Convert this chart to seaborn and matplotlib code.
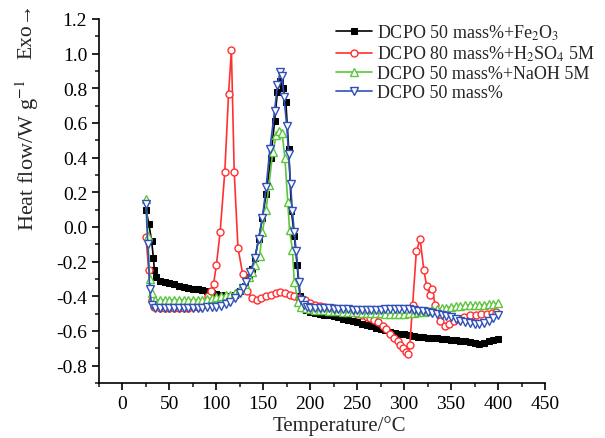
import matplotlib
matplotlib.use("Agg")
import matplotlib.pyplot as plt
import seaborn as sns
from matplotlib.ticker import MultipleLocator

# DCPO 50 mass% + Fe2O3
fe_t = [25, 28, 31, 33, 34, 36, 40, 45, 50, 55, 60, 65, 70, 75, 80, 85, 90, 95, 100,
        105, 110, 115, 120, 125, 130, 135, 138, 141, 145, 149, 153, 158, 162, 165, 168,
        171, 174, 177, 180, 183, 186, 189, 192, 195, 200, 205, 210, 215, 220, 225, 230,
        235, 240, 245, 250, 255, 260, 265, 270, 275, 280, 285, 290, 295, 300, 305, 310,
        315, 320, 325, 330, 335, 340, 345, 350, 355, 360, 365, 370, 375, 380, 385, 390,
        395, 400]
fe_v = [0.10, 0.02, -0.08, -0.18, -0.25, -0.29, -0.31, -0.32, -0.325, -0.33, -0.34,
        -0.345, -0.35, -0.355, -0.36, -0.365, -0.37, -0.38, -0.385, -0.39, -0.40, -0.40,
        -0.39, -0.37, -0.34, -0.29, -0.24, -0.18, -0.07, 0.05, 0.19, 0.40, 0.61, 0.78,
        0.84, 0.80, 0.72, 0.45, 0.09, -0.05, -0.22, -0.40, -0.47, -0.48, -0.49, -0.495,
        -0.50, -0.505, -0.51, -0.515, -0.52, -0.528, -0.535, -0.543, -0.55, -0.558,
        -0.565, -0.573, -0.58, -0.588, -0.595, -0.603, -0.61, -0.615, -0.62, -0.625,
        -0.63, -0.633, -0.635, -0.638, -0.64, -0.643, -0.645, -0.648, -0.65, -0.653,
        -0.655, -0.66, -0.665, -0.67, -0.675, -0.67, -0.66, -0.652, -0.645]

# DCPO 80 mass% + H2SO4 5M
h2_t = [25, 28, 31, 34, 40, 45, 50, 55, 60, 65, 70, 75, 80, 85, 88, 91, 94, 97, 100,
        104, 109, 113, 116, 119, 123, 128, 133, 138, 143, 148, 153, 158, 163, 168, 173,
        178, 183, 188, 194, 200, 205, 210, 215, 220, 225, 230, 235, 240, 245, 250, 255,
        260, 264, 268, 272, 277, 281, 285, 289, 293, 296, 299, 302, 304, 306, 309, 313,
        317, 321, 324, 327, 330, 333, 338, 343, 348, 353, 358, 364, 370, 376, 382, 388,
        394, 398]
h2_v = [-0.06, -0.25, -0.42, -0.46, -0.465, -0.465, -0.465, -0.465, -0.465, -0.465,
        -0.465, -0.462, -0.46, -0.45, -0.43, -0.40, -0.37, -0.33, -0.22, -0.03, 0.32,
        0.77, 1.02, 0.32, -0.12, -0.27, -0.37, -0.41, -0.42, -0.41, -0.40, -0.39, -0.38,
        -0.375, -0.38, -0.39, -0.40, -0.41, -0.42, -0.44, -0.448, -0.455, -0.46, -0.465,
        -0.47, -0.475, -0.48, -0.485, -0.49, -0.50, -0.51, -0.52, -0.525, -0.535, -0.55,
        -0.57, -0.59, -0.615, -0.64, -0.66, -0.68, -0.70, -0.72, -0.73, -0.68, -0.45,
        -0.14, -0.07, -0.25, -0.34, -0.39, -0.36, -0.45, -0.54, -0.57, -0.56, -0.54,
        -0.53, -0.52, -0.51, -0.505, -0.50, -0.50, -0.495, -0.49]

# DCPO 50 mass% + NaOH 5M
na_t = [25, 27, 29, 31, 35, 40, 45, 50, 55, 60, 65, 70, 75, 80, 85, 90, 95, 100, 105,
        110, 115, 120, 125, 130, 135, 138, 141, 146, 149, 153, 156, 160, 164, 167, 170,
        173, 176, 178, 181, 183, 187, 190, 195, 200, 205, 210, 215, 220, 225, 230, 235,
        240, 245, 250, 255, 260, 265, 270, 275, 280, 285, 290, 295, 300, 305, 310, 315,
        320, 325, 330, 335, 340, 345, 350, 355, 360, 365, 370, 375, 380, 385, 390, 395,
        400]
na_v = [0.16, -0.05, -0.30, -0.38, -0.42, -0.42, -0.42, -0.42, -0.42, -0.42, -0.42,
        -0.42, -0.42, -0.42, -0.42, -0.415, -0.41, -0.405, -0.40, -0.395, -0.39, -0.38,
        -0.36, -0.33, -0.29, -0.26, -0.22, -0.17, -0.03, 0.10, 0.24, 0.43, 0.53, 0.555,
        0.54, 0.40, 0.145, -0.02, -0.13, -0.32, -0.43, -0.46, -0.47, -0.475, -0.478,
        -0.48, -0.48, -0.482, -0.484, -0.486, -0.488, -0.49, -0.49, -0.492, -0.494,
        -0.496, -0.497, -0.498, -0.499, -0.50, -0.50, -0.50, -0.50, -0.50, -0.498,
        -0.495, -0.492, -0.49, -0.485, -0.48, -0.475, -0.47, -0.465, -0.46, -0.457,
        -0.455, -0.452, -0.45, -0.45, -0.45, -0.448, -0.445, -0.443, -0.44]

# DCPO 50 mass%
pl_t = [25, 27, 29, 31, 35, 40, 45, 50, 55, 60, 65, 70, 75, 80, 85, 90, 95, 100, 105,
        110, 115, 120, 125, 128, 132, 136, 141, 145, 149, 153, 157, 162, 165, 168, 170,
        172, 175, 177, 179, 181, 183, 185, 188, 190, 193, 197, 200, 205, 210, 215, 220,
        225, 230, 235, 240, 245, 250, 255, 260, 265, 270, 275, 280, 285, 290, 295, 300,
        305, 310, 315, 320, 325, 330, 335, 340, 345, 350, 355, 360, 365, 370, 375, 380,
        385, 390, 395, 400]
pl_v = [0.13, -0.10, -0.36, -0.45, -0.47, -0.47, -0.47, -0.47, -0.47, -0.47, -0.47,
        -0.47, -0.47, -0.468, -0.466, -0.464, -0.462, -0.46, -0.455, -0.445, -0.43,
        -0.41, -0.38, -0.35, -0.32, -0.26, -0.18, -0.07, 0.05, 0.23, 0.45, 0.67, 0.82,
        0.895, 0.87, 0.75, 0.58, 0.42, 0.25, 0.09, -0.03, -0.14, -0.32, -0.42, -0.45,
        -0.46, -0.465, -0.467, -0.468, -0.47, -0.47, -0.472, -0.473, -0.474, -0.475,
        -0.476, -0.477, -0.478, -0.478, -0.478, -0.478, -0.476, -0.475, -0.474, -0.473,
        -0.472, -0.472, -0.474, -0.478, -0.482, -0.487, -0.492, -0.498, -0.504, -0.51,
        -0.515, -0.52, -0.53, -0.54, -0.548, -0.555, -0.56, -0.56, -0.555, -0.54, -0.525,
        -0.51]

sns.set_style("ticks")
plt.rcParams["font.family"] = ["Liberation Serif", "DejaVu Serif"]
plt.rcParams["mathtext.fontset"] = "stix"
plt.rcParams["axes.unicode_minus"] = True

fig = plt.figure(figsize=(6.05, 4.39), dpi=100)
ax = fig.add_axes([99 / 605, 55 / 439, 446 / 605, 364 / 439])

sns.lineplot(x=fe_t, y=fe_v, ax=ax, color="black", marker="s", markersize=4.5,
             markeredgecolor="black", markerfacecolor="black", linewidth=1.2,
             label="DCPO 50 mass%+Fe$_2$O$_3$")
sns.lineplot(x=h2_t, y=h2_v, ax=ax, color="#ff3030", marker="o", markersize=5,
             markeredgecolor="#ff3030", markerfacecolor="white", markeredgewidth=1,
             linewidth=1.2, label="DCPO 80 mass%+H$_2$SO$_4$ 5M")
sns.lineplot(x=na_t, y=na_v, ax=ax, color="#5cc63c", marker="^", markersize=5.5,
             markeredgecolor="#5cc63c", markerfacecolor="white", markeredgewidth=1,
             linewidth=1.2, label="DCPO 50 mass%+NaOH 5M")
sns.lineplot(x=pl_t, y=pl_v, ax=ax, color="#3050b8", marker="v", markersize=5.5,
             markeredgecolor="#3050b8", markerfacecolor="white", markeredgewidth=1,
             linewidth=1.2, label="DCPO 50 mass%")

ax.set_xlim(-25, 450)
ax.set_ylim(-0.9, 1.2)
ax.xaxis.set_major_locator(MultipleLocator(50))
ax.xaxis.set_minor_locator(MultipleLocator(25))
ax.yaxis.set_major_locator(MultipleLocator(0.2))
ax.yaxis.set_minor_locator(MultipleLocator(0.1))
ax.yaxis.set_major_formatter(matplotlib.ticker.FormatStrFormatter("%.1f"))
ax.tick_params(which="major", direction="out", length=5, width=1.2, labelsize=14,
               colors="black")
ax.tick_params(which="minor", direction="out", length=3, width=1.2)
for s in ["top", "right"]:
    ax.spines[s].set_visible(False)
for s in ["left", "bottom"]:
    ax.spines[s].set_linewidth(1.2)
    ax.spines[s].set_color("black")

ax.set_xlabel("Temperature/°C", fontsize=15)
ax.xaxis.set_label_coords(0.54, -0.088)
ax.set_ylabel("")
fig.text(27 / 605, 1 - 155 / 439, "Heat flow/W g$^{-1}$", rotation=90,
         ha="center", va="center", fontsize=16)
fig.text(27 / 605, 1 - 31 / 439, "Exo→", rotation=90, ha="center", va="center",
         fontsize=15.5)

ax.legend(loc="upper left", bbox_to_anchor=(323 / 605, 1 - 11 / 439),
          bbox_transform=fig.transFigure, frameon=False, fontsize=13,
          handlelength=2.0, handletextpad=0.3, labelspacing=0.1, numpoints=1,
          borderpad=0.2)

fig.savefig("out.png", dpi=100)
